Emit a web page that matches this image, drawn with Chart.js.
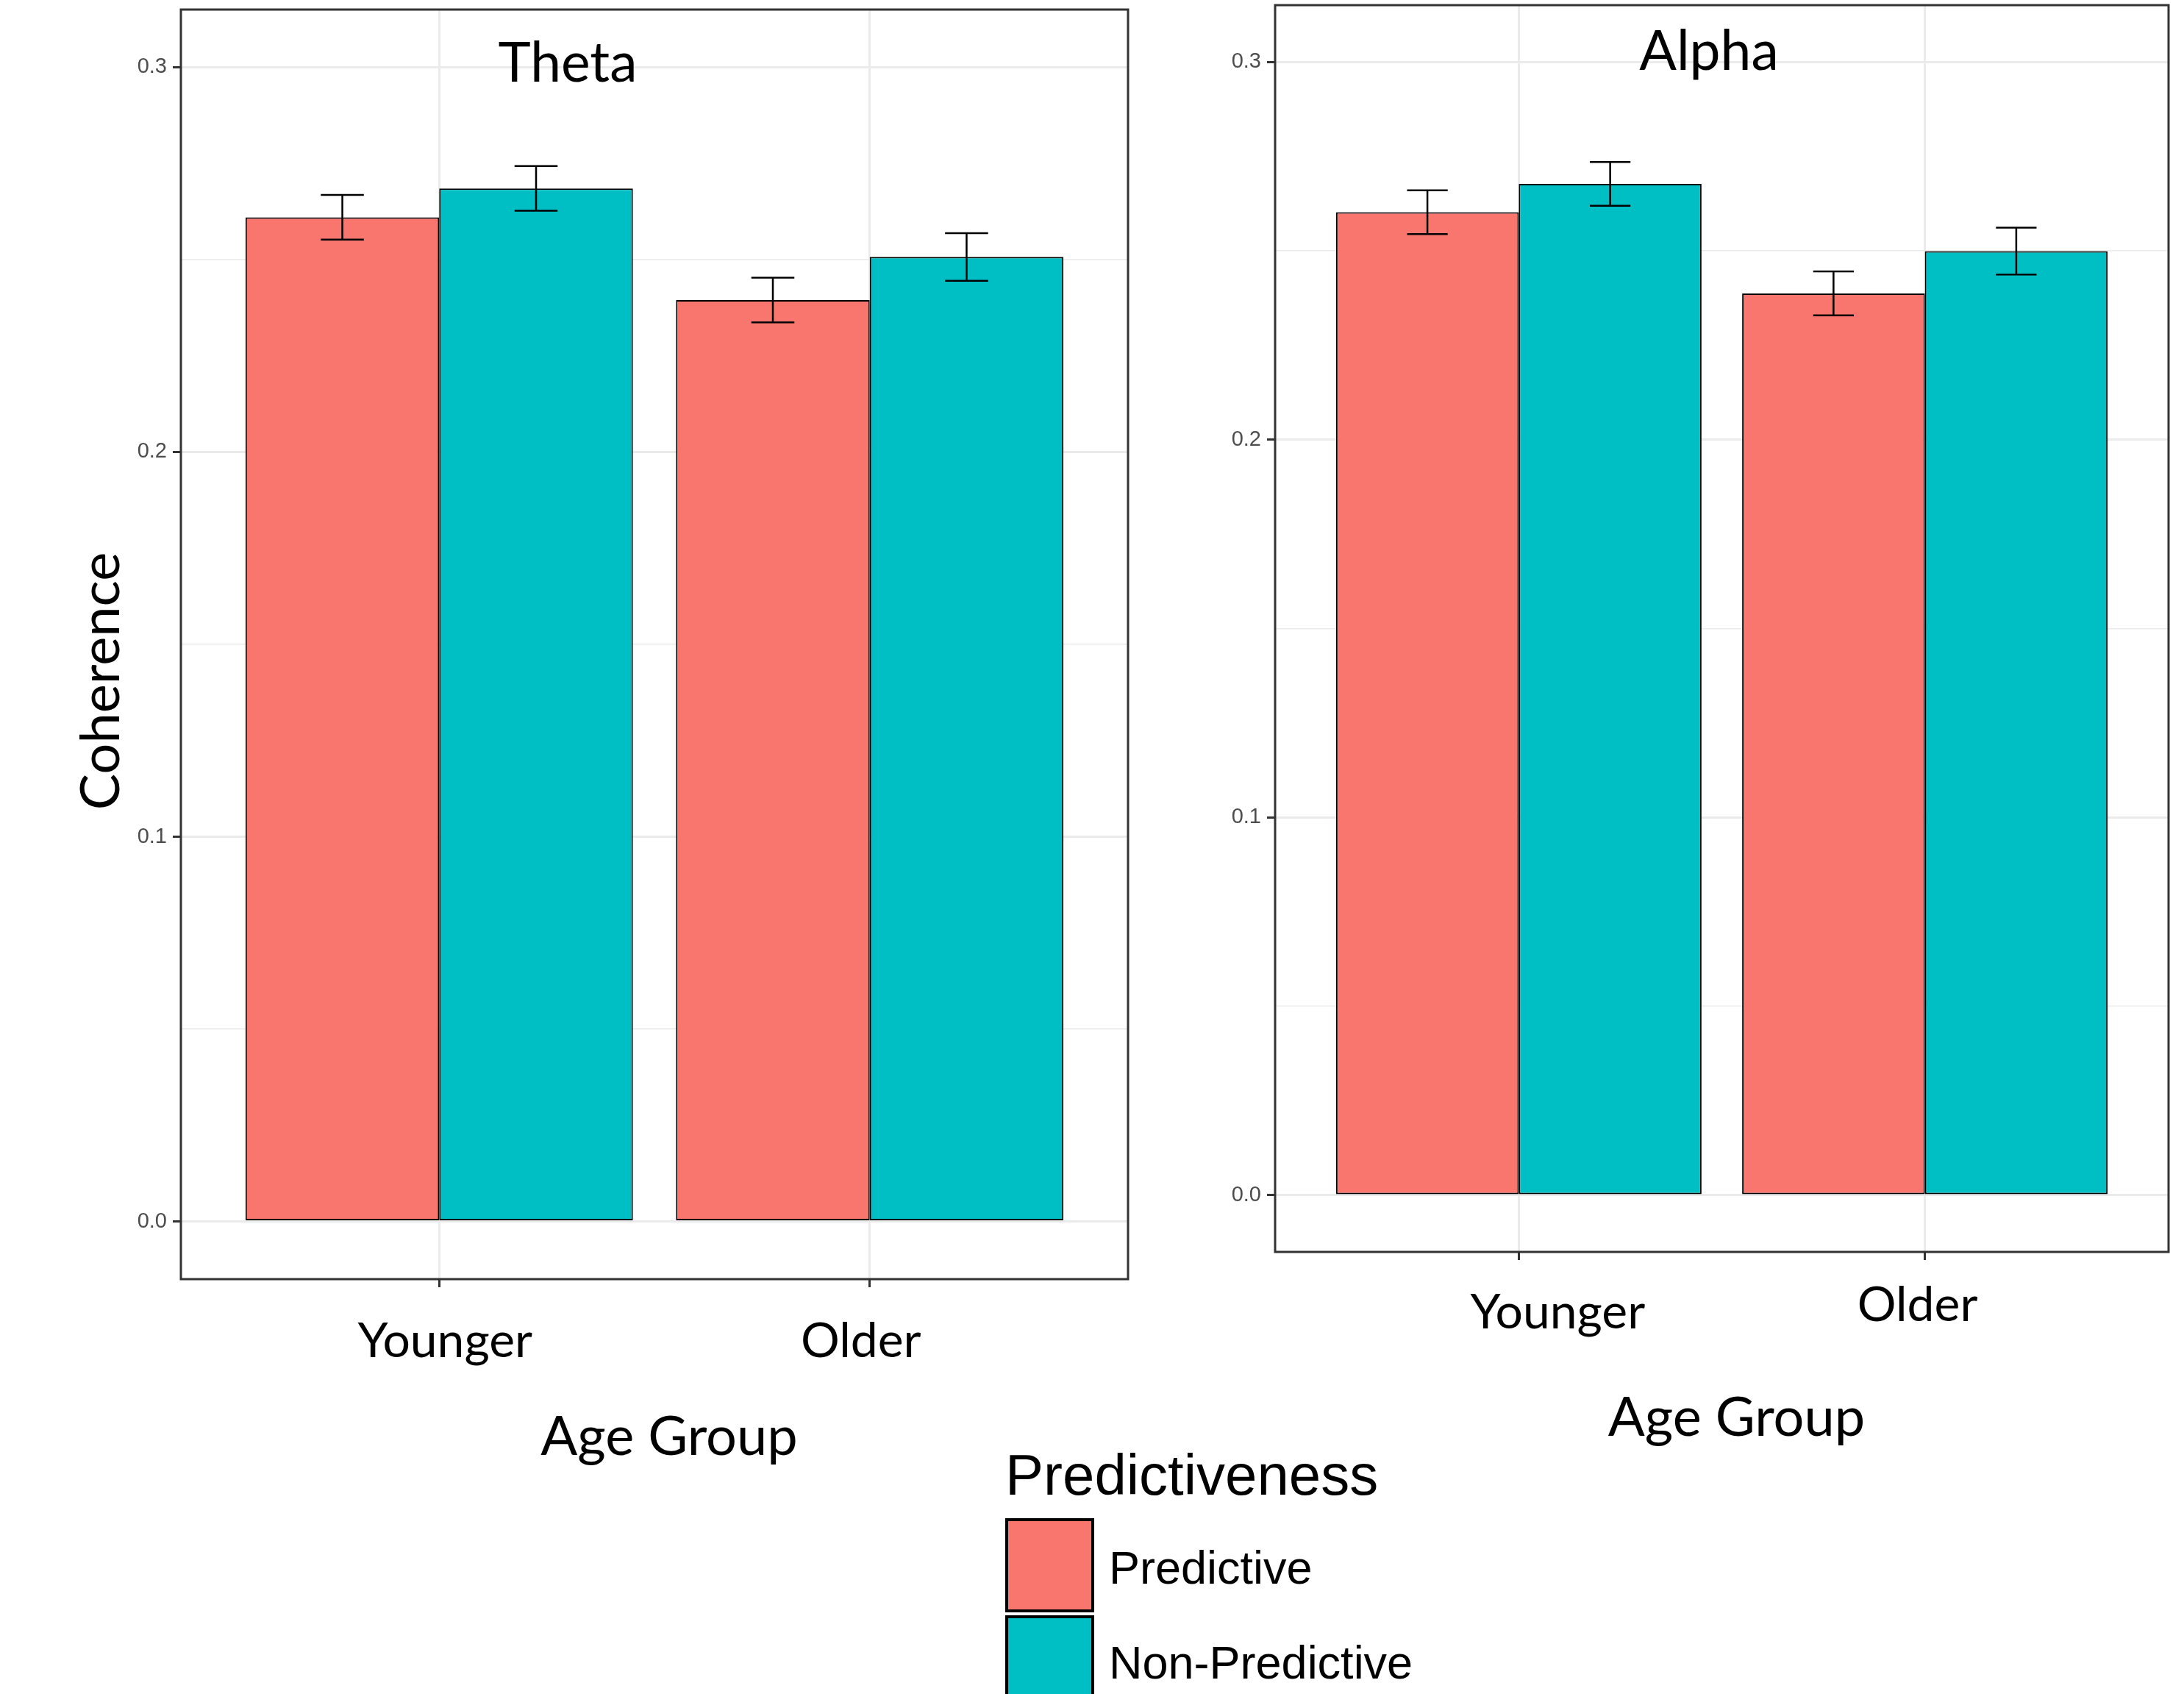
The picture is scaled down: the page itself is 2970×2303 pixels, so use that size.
<!DOCTYPE html>
<html>
<head>
<meta charset="utf-8">
<title>Coherence by Age Group</title>
<script src="https://cdn.jsdelivr.net/npm/chart.js@4.4.1/dist/chart.umd.min.js"></script>
<style>
    body { margin: 0; background: #ffffff; width: 2970px; height: 2303px; overflow: hidden; position: relative; }
    canvas { position: absolute; top: 0; }
    #thetaChart { left: 0; }
    #alphaChart { left: 1560px; }
    .legend { position: absolute; font-family: 'Liberation Sans', Arial, sans-serif; color: #000; line-height: 1; white-space: nowrap; }
    .legend-title { left: 1367px; top: 1966px; font-size: 78px; }
    .swatch { position: absolute; left: 1367px; width: 121px; height: 128px; box-sizing: border-box; border: 4px solid #000; }
    .legend-label { left: 1508px; font-size: 63px; }
</style>
</head>
<body>
<canvas id="thetaChart" width="1560" height="2000"></canvas>
<canvas id="alphaChart" width="1410" height="2000"></canvas>
<div id="legend"></div>

<script>
// categories and tick labels
const categories = ['Younger', 'Older'];
const seriesNames = ['Predictive', 'Non-Predictive'];
const seriesColors = ['#F8766D', '#00BFC4'];
const yMajorTicks = [0, 0.1, 0.2, 0.3];
const yMajorLabels = ['0.0', '0.1', '0.2', '0.3'];
const yMinorTicks = [0.05, 0.15, 0.25];

// Theta panel (mean coherence and error half-widths)
const thetaPredictive = [0.2610, 0.2395];
const thetaNonPredictive = [0.2685, 0.2507];
const thetaPredictiveErr = [0.0058, 0.0058];
const thetaNonPredictiveErr = [0.0058, 0.0062];

// Alpha panel
const alphaPredictive = [0.2602, 0.2387];
const alphaNonPredictive = [0.2677, 0.2499];
const alphaPredictiveErr = [0.0058, 0.0058];
const alphaNonPredictiveErr = [0.0058, 0.0062];

// Error bars drawn on top of the bars
const errorBarPlugin = {
    id: 'errorBars',
    afterDatasetsDraw(chart) {
        const ctx = chart.ctx;
        const xScale = chart.scales.x;
        const yScale = chart.scales.y;
        const capHalf = xScale.getPixelForValue(1.05) - xScale.getPixelForValue(1);

        chart.data.datasets.forEach((ds, i) => {
            const meta = chart.getDatasetMeta(i);
            meta.data.forEach((bar, j) => {
                const value = ds.data[j].y;
                const err = ds.errors[j];
                const yTop = yScale.getPixelForValue(value + err);
                const yBottom = yScale.getPixelForValue(value - err);

                ctx.save();
                ctx.strokeStyle = '#000000';
                ctx.lineWidth = 2.5;
                ctx.beginPath();
                ctx.moveTo(bar.x, yTop);
                ctx.lineTo(bar.x, yBottom);
                ctx.moveTo(bar.x - capHalf, yTop);
                ctx.lineTo(bar.x + capHalf, yTop);
                ctx.moveTo(bar.x - capHalf, yBottom);
                ctx.lineTo(bar.x + capHalf, yBottom);
                ctx.stroke();
                ctx.restore();
            });
        });
    }
};

// Panel border, panel title, category labels and axis titles
const panelDecorPlugin = {
    id: 'panelDecor',
    afterDraw(chart, args, opts) {
        const ctx = chart.ctx;
        const area = chart.chartArea;
        const xScale = chart.scales.x;

        ctx.save();
        ctx.strokeStyle = '#333333';
        ctx.lineWidth = 3;
        ctx.strokeRect(area.left, area.top, area.right - area.left, area.bottom - area.top);

        ctx.fillStyle = '#000000';
        ctx.textAlign = 'center';
        ctx.textBaseline = 'alphabetic';

        // panel title inside the plot
        ctx.font = '75px Lato';
        ctx.fillText(opts.title, opts.titleX, opts.titleY);

        // category labels under the tick marks
        ctx.font = '66px Lato';
        categories.forEach((cat, i) => {
            const x = xScale.getPixelForValue(i + 1) + opts.labelShift[i];
            ctx.fillText(cat, x, opts.labelBaseline[i]);
        });

        // x axis title
        ctx.font = '74px Lato';
        ctx.fillText(opts.xTitle, (area.left + area.right) / 2 + opts.xTitleShift, opts.xTitleBaseline);

        // rotated y axis title
        if (opts.yTitle) {
            ctx.translate(opts.yTitleX, (area.top + area.bottom) / 2 + opts.yTitleShift);
            ctx.rotate(-Math.PI / 2);
            ctx.fillText(opts.yTitle, 0, 0);
        }
        ctx.restore();
    }
};

function isMajor(value) {
    return yMajorTicks.indexOf(value) !== -1;
}

function createPanel(canvasId, predValues, nonPredValues, predErr, nonPredErr, layout) {
    const ctx = document.getElementById(canvasId).getContext('2d');

    const datasets = [
        { label: seriesNames[0], data: categories.map((c, i) => ({ x: i + 1, y: predValues[i] })), errors: predErr, backgroundColor: seriesColors[0] },
        { label: seriesNames[1], data: categories.map((c, i) => ({ x: i + 1, y: nonPredValues[i] })), errors: nonPredErr, backgroundColor: seriesColors[1] }
    ].map(ds => Object.assign(ds, {
        borderColor: '#000000',
        borderWidth: 2,
        borderSkipped: false,
        categoryPercentage: 0.9,
        barPercentage: 1.0
    }));

    return new Chart(ctx, {
        type: 'bar',
        data: { datasets: datasets },
        plugins: [errorBarPlugin, panelDecorPlugin],
        options: {
            responsive: false,
            animation: false,
            layout: { padding: layout.padding },
            plugins: {
                legend: { display: false },
                tooltip: { enabled: false },
                panelDecor: layout.decor
            },
            scales: {
                x: {
                    type: 'linear',
                    min: 0.4,
                    max: 2.6,
                    offset: false,
                    afterBuildTicks: s => { s.ticks = categories.map((c, i) => ({ value: i + 1 })); },
                    afterFit: s => { s.height = layout.xAxisHeight; s.paddingLeft = 0; s.paddingRight = 0; },
                    ticks: { display: false },
                    grid: { offset: false, color: '#EBEBEB', lineWidth: 3, tickLength: 11, tickColor: '#333333', tickWidth: 3 },
                    border: { display: false }
                },
                y: {
                    min: -0.015,
                    max: 0.315,
                    afterBuildTicks: s => { s.ticks = yMajorTicks.concat(yMinorTicks).sort((a, b) => a - b).map(v => ({ value: v })); },
                    afterFit: s => { s.width = layout.yAxisWidth; s.paddingTop = 0; s.paddingBottom = 0; },
                    ticks: {
                        callback: v => isMajor(v) ? yMajorLabels[yMajorTicks.indexOf(v)] : '',
                        font: { family: 'Liberation Sans', size: 29 },
                        color: '#4D4D4D',
                        padding: 8,
                        autoSkip: false
                    },
                    grid: {
                        color: '#EBEBEB',
                        lineWidth: c => (c.tick && isMajor(c.tick.value)) ? 3 : 1.5,
                        tickLength: 11,
                        tickWidth: 3,
                        tickColor: c => (c.tick && isMajor(c.tick.value)) ? '#333333' : 'rgba(0,0,0,0)'
                    },
                    border: { display: false }
                }
            }
        }
    });
}

createPanel('thetaChart', thetaPredictive, thetaNonPredictive, thetaPredictiveErr, thetaNonPredictiveErr, {
    padding: { left: 0, top: 13, right: 26, bottom: 0 },
    yAxisWidth: 246,
    xAxisHeight: 261,
    decor: {
        title: 'Theta', titleX: 772, titleY: 111,
        labelShift: [8, -12], labelBaseline: [1845, 1845],
        xTitle: 'Age Group', xTitleShift: 20, xTitleBaseline: 1978,
        yTitle: 'Coherence', yTitleX: 162, yTitleShift: 50
    }
});

createPanel('alphaChart', alphaPredictive, alphaNonPredictive, alphaPredictiveErr, alphaNonPredictiveErr, {
    padding: { left: 0, top: 7, right: 21, bottom: 0 },
    yAxisWidth: 174,
    xAxisHeight: 298,
    decor: {
        title: 'Alpha', titleX: 764, titleY: 95,
        labelShift: [53, -10], labelBaseline: [1806, 1796],
        xTitle: 'Age Group', xTitleShift: 20, xTitleBaseline: 1952
    }
});

// Legend for the fill colours
function buildLegend() {
    let html = '<div class="legend legend-title">Predictiveness</div>';
    const swatchTops = [2064, 2196];
    const labelTops = [2100, 2229];
    seriesNames.forEach((name, i) => {
        html += '<div class="swatch" style="top:' + swatchTops[i] + 'px;background:' + seriesColors[i] + '"></div>';
        html += '<div class="legend legend-label" style="top:' + labelTops[i] + 'px">' + name + '</div>';
    });
    document.getElementById('legend').innerHTML = html;
}

buildLegend();
</script>
</body>
</html>
